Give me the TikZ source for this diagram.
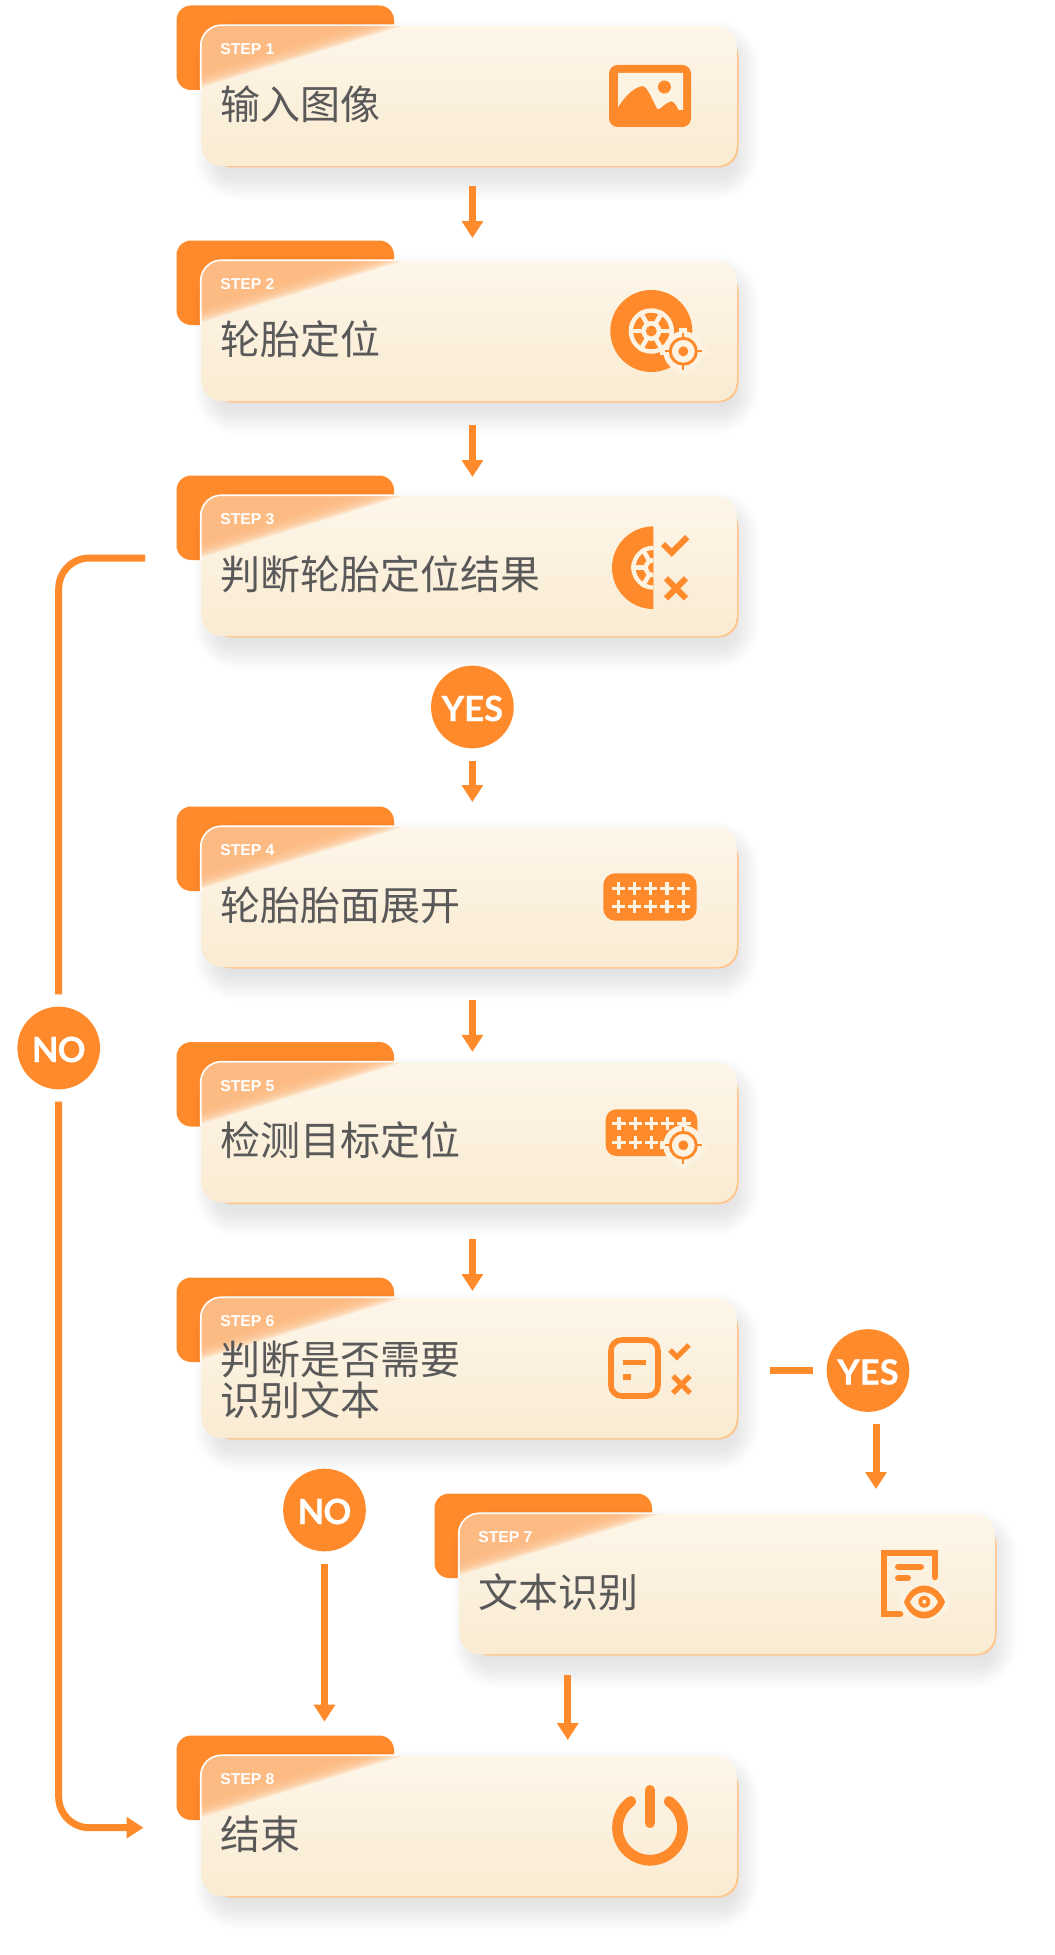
\documentclass[tikz,border=0pt]{standalone}
\usepackage{fontspec}
\setmainfont{Liberation Sans}
\newfontfamily\cjkfont{Noto Sans CJK SC}
\newfontfamily\badgefont{Lato}[BoldFont={Lato Bold},BoldFeatures={FakeBold=0.5}]
\usepackage{tikz}
\usetikzlibrary{arrows.meta, positioning}
\definecolor{accent}{HTML}{FF8A2B}
\definecolor{cardtop}{HTML}{FDF6E9}
\definecolor{cardbottom}{HTML}{FAEBD2}
\definecolor{cardedge}{HTML}{FFC58C}
\definecolor{glasscol}{HTML}{FFB97F}
\definecolor{iconlight}{HTML}{FDF3E3}
\definecolor{titlecol}{HTML}{595959}
\tikzset{
	card/.style={anchor=north west, minimum width=401.6pt, minimum height=105pt, inner sep=0pt, outer sep=0pt,
		rounded corners=15pt, top color=cardtop, bottom color=cardbottom},
	steplabel/.style={anchor=west, inner sep=0pt, text=white, font=\bfseries\fontsize{11.8}{14}\selectfont},
	steptitle/.style={anchor=west, inner sep=0pt, align=left, text=titlecol, font=\cjkfont\fontsize{30}{30.75}\selectfont},
	badge/.style={circle, fill=accent, text=white, minimum size=62pt, inner sep=0pt, font=\badgefont\bfseries\fontsize{26}{28}\selectfont},
	flow/.style={draw=accent, line width=5.25pt},
	arrowflow/.style={flow, -{Triangle[length=12.75pt,width=15.5pt]}}
}
\newcommand{\badgetext}[2][0pt]{\raisebox{-10.5pt}[0pt][0pt]{\addfontfeature{LetterSpace=#1}#2}}
% One step: name, left, top, number, title height, title
\newcommand{\stepcard}[6]{
	\fill[accent, rounded corners=11pt] (#2-25,#3-20.5) rectangle (#2+192.5,#3+64);
	\foreach \d in {-10,-6,-2,0,2,4,6,8,10,12,14,16,18,20}
		\fill[black, fill opacity=0.009, rounded corners=15pt+\d pt] (#2+12-\d,#3+14-\d) rectangle (#2+538+\d,#3+154+\d);
	\fill[cardedge, rounded corners=15pt] (#2+10,#3+10) rectangle (#2+537,#3+141.5);
	\node[card] (#1) at (#2,#3) {};
	\begin{scope}
		\clip[rounded corners=15pt] (#2,#3) rectangle (#2+535.5,#3+140);
		\foreach \d in {0,2,...,14}
			\fill[glasscol, fill opacity=0.3] (#2,#3) -- (#2+200-\d*3.33,#3) -- (#2,#3+61-\d) -- cycle;
	\end{scope}
	\draw[white, line width=1.2pt, rounded corners=15.5pt] (#2-0.8,#3+64) -- (#2-0.8,#3-0.8) -- (#2+193,#3-0.8);
	\node[steplabel] (#1label) at (#2+18.5,#3+23.5) {STEP #4};
	\node[steptitle] (#1title) at (#2+18.5,#3+#5) {#6};
}
% Wheel hub inside a tyre
\newcommand{\tyrehub}[3]{
	\fill[iconlight] (#1,#2) circle (#3);
	\fill[accent] (#1,#2) circle (#3*0.8);
	\foreach \a in {0,60,...,300}
		\draw[iconlight, line width=3.4pt] (#1,#2) -- ++(\a:#3);
	\fill[iconlight] (#1,#2) circle (#3*0.44);
	\fill[accent] (#1,#2) circle (#3*0.24);
}
% Target mark
\newcommand{\targetmark}[2]{
	\fill[iconlight] (#1,#2) circle (20);
	\foreach \a in {0,90,180,270}
		\draw[iconlight, line width=6pt] (#1,#2) -- ++(\a:23);
	\draw[accent, line width=2.2pt] (#1,#2) circle (13);
	\fill[accent] (#1,#2) circle (5);
	\foreach \a in {0,90,180,270}
		\draw[accent, line width=1.6pt] (#1,#2) ++(\a:14) -- ++(\a:4.5);
}
% One row of plus signs
\newcommand{\plusrow}[3]{
	\foreach \k in {0,...,4} {
		\draw[iconlight, line width=2.5pt] (#1+\k*#3-6.6,#2) -- (#1+\k*#3+6.6,#2);
		\draw[iconlight, line width=2.5pt] (#1+\k*#3,#2-6.6) -- (#1+\k*#3,#2+6.6);
	}
}
% Tick and cross
\newcommand{\tickcross}[8]{
	\draw[accent, line width=#3pt] (#1,#2) -- ++(#4,#4) -- ++(#5,-#5);
	\draw[accent, line width=#3pt] (#6-#8,#7-#8) -- (#6+#8,#7+#8);
	\draw[accent, line width=#3pt] (#6-#8,#7+#8) -- (#6+#8,#7-#8);
}
\begin{document}
\begin{tikzpicture}[x=0.75pt,y=-0.75pt]
	\useasboundingbox (0,0) rectangle (1055,1955);
	% Cards
	\stepcard{step1}{201.5}{26}{1}{78}{输入图像}
	\stepcard{step2}{201.5}{261}{2}{78}{轮胎定位}
	\stepcard{step3}{201.5}{496}{3}{78}{判断轮胎定位结果}
	\stepcard{step4}{201.5}{827}{4}{78}{轮胎胎面展开}
	\stepcard{step5}{201.5}{1062.5}{5}{78}{检测目标定位}
	\stepcard{step6}{201.5}{1298}{6}{81.5}{判断是否需要\\识别文本}
	\stepcard{step7}{459.5}{1514}{7}{78}{文本识别}
	\stepcard{step8}{201.5}{1756}{8}{78}{结束}
	% Image icon
	\fill[accent, rounded corners=6.5pt] (609,65) rectangle (691,127);
	\fill[iconlight] (618,73) -- (683,73) -- (683,110) -- (678.6,110) .. controls (675,102) and (672,100) .. (669,102)
		.. controls (664,104) and (660,110) .. (657.5,109) .. controls (652,100) and (648,86) .. (642,86)
		.. controls (632,88) and (624,98) .. (618,107) -- cycle;
	\fill[accent] (664.4,87) circle (6.5);
	% Tyre icon
	\fill[accent] (651.3,331) circle (41);
	\tyrehub{651.3}{331}{22.7}
	\targetmark{683.3}{351.3}
	% Half tyre icon
	\begin{scope}
		\clip (600,520) rectangle (653.3,620);
		\fill[accent] (653.3,567.7) circle (41.3);
		\tyrehub{653.3}{567.7}{22}
	\end{scope}
	\tickcross{663}{544}{4.5}{8.7}{15.6}{676}{588.3}{10}
	% Tread icon
	\fill[accent, rounded corners=9pt] (603.3,873.3) rectangle (696.7,920.7);
	\plusrow{618.3}{888.3}{16.25}
	\plusrow{618.3}{906.7}{16.25}
	% Tread and target icon
	\fill[accent, rounded corners=8pt] (605.7,1109.3) rectangle (697.3,1156);
	\plusrow{619}{1123.3}{16.25}
	\plusrow{619}{1142.3}{16.25}
	\targetmark{683.3}{1145.3}
	% Document and choice icon
	\draw[accent, line width=4.2pt, rounded corners=8pt] (611,1340) rectangle (658,1396);
	\draw[accent, line width=3.4pt] (623.3,1362.7) -- (645.7,1362.7);
	\draw[accent, line width=4.2pt] (623.3,1376.7) -- (630.7,1376.7);
	\tickcross{670}{1350}{3.8}{7}{12}{681.5}{1384.5}{8.5}
	% Document and eye icon
	\draw[accent, line width=5pt, line cap=round, line join=miter] (935,1577) -- (935,1553) -- (884,1553) -- (884,1614) -- (900,1614);
	\draw[accent, line width=4.5pt, line cap=round] (898,1567) -- (921,1567);
	\draw[accent, line width=4.5pt, line cap=round] (898,1578.3) -- (908,1578.3);
	\fill[iconlight] (924.3,1602) ellipse (25 and 18);
	\fill[accent] (904,1602) .. controls (912,1580) and (936,1580) .. (945,1602) .. controls (936,1624) and (912,1624) .. (904,1602) -- cycle;
	\fill[iconlight] (910,1602) .. controls (916,1589) and (932,1589) .. (938,1602) .. controls (932,1615) and (916,1615) .. (910,1602) -- cycle;
	\fill[accent] (924.3,1601.7) circle (6);
	\fill[iconlight] (924.3,1601.7) circle (2);
	% Power icon
	\draw[accent, line width=8pt, line cap=round] plot[domain=234:-54, samples=60] ({650+32.5*cos(\x)},{1827.7+32.5*sin(\x)});
	\draw[accent, line width=7.5pt, line cap=round] (650,1790) -- (650,1823);
	% Badges
	\node[badge] (yes1) at (472.4,707) {\badgetext{YES}};
	\node[badge] (no1) at (58.7,1048) {\badgetext[-3]{NO}};
	\node[badge] (no2) at (324.5,1510) {\badgetext[-3]{NO}};
	\node[badge] (yes2) at (868,1370.5) {\badgetext{YES}};
	% Free ends of the long way round
	\coordinate (failstart) at (145,558);
	\coordinate (failend) at (143.5,1827.7);
	% Connectors
	\draw[arrowflow, shorten <=15pt, shorten >=17.25pt] ([xshift=2.4pt]step1.south) -- ([xshift=2.4pt]step2.north);
	\draw[arrowflow, shorten <=18pt, shorten >=14.25pt] ([xshift=2.4pt]step2.south) -- ([xshift=2.4pt]step3.north);
	\draw[arrowflow, shorten <=9pt, shorten >=18.75pt] (yes1.south) -- (yes1.south |- step4.north);
	\draw[arrowflow, shorten <=24.75pt, shorten >=8pt] ([xshift=2.4pt]step4.south) -- ([xshift=2.4pt]step5.north);
	\draw[arrowflow, shorten <=27.4pt, shorten >=5.25pt] ([xshift=2.4pt]step5.south) -- ([xshift=2.4pt]step6.north);
	\draw[flow, shorten <=25pt, shorten >=10pt] (step6.east |- yes2.west) -- (yes2.west);
	\draw[arrowflow, shorten <=9pt, shorten >=18.75pt] ([xshift=6pt]yes2.south) -- ([xshift=6pt]yes2.south |- step7.north);
	\draw[arrowflow, shorten <=9pt, shorten >=25.75pt] (no2.south) -- (no2.south |- step8.north);
	\draw[arrowflow, shorten <=15.75pt, shorten >=12pt] ([xshift=-119.6pt]step7.south) -- ([xshift=-119.6pt]step7.south |- step8.north);
	\draw[flow, rounded corners=23pt, shorten >=9pt] (failstart) -| (no1.north);
	\draw[arrowflow, rounded corners=23pt, shorten <=9pt] (no1.south) |- (failend);
\end{tikzpicture}
\end{document}
